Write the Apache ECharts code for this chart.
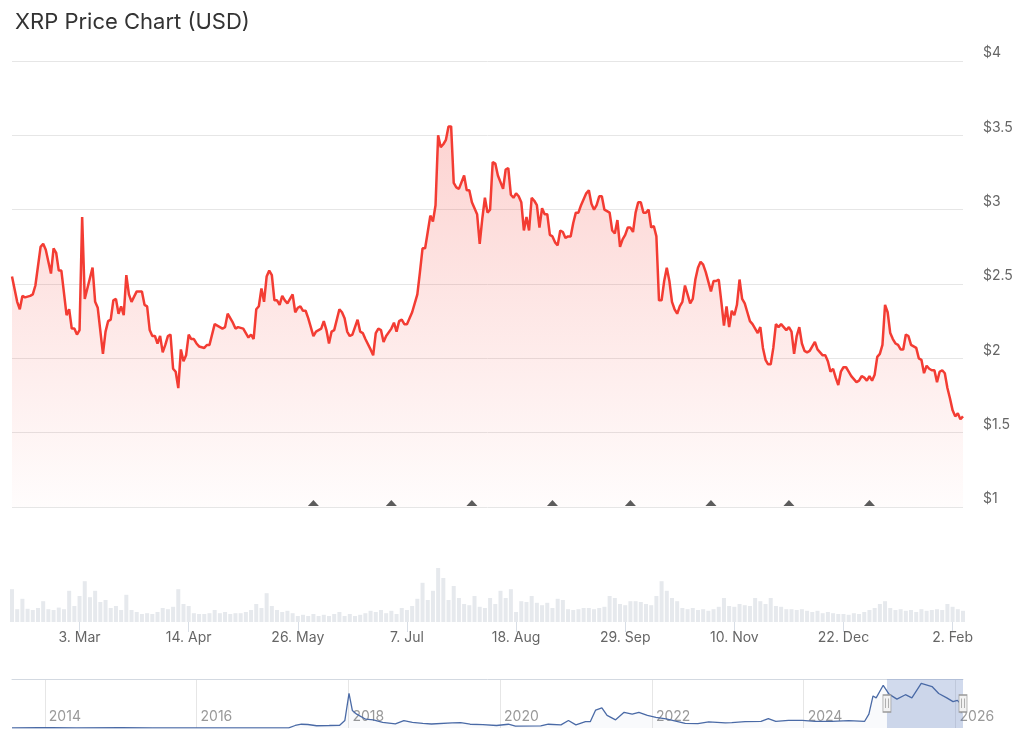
<!DOCTYPE html>
<html>
<head>
<meta charset="utf-8">
<title>XRP Price Chart (USD)</title>
<script src="https://cdn.jsdelivr.net/npm/echarts@6/dist/echarts.min.js"></script>
<style>
  html, body { margin: 0; padding: 0; background: #fff; }
  #chart { width: 1024px; height: 747px; }
</style>
</head>
<body>
<div id="chart"></div>
<script>
// first day of the daily window
const startDate = [2025, 1, 5]; // 5 Feb 2025 (month is 0-based)

// [days since start, close price in USD]
const xrpDaily = [
  [0, 2.55], [2, 2.38], [3, 2.33], [4, 2.42], [5, 2.41], [7, 2.42], [8, 2.43], [9, 2.49],
  [11, 2.75], [12, 2.77], [13, 2.73], [14, 2.65], [15, 2.57], [16, 2.74], [17, 2.71], [18, 2.59],
  [19, 2.59], [21, 2.29], [22, 2.33], [23, 2.20], [24, 2.20], [25, 2.16], [26, 2.19], [27, 2.95],
  [28, 2.40], [29, 2.47], [31, 2.61], [32, 2.38], [33, 2.34], [35, 2.03], [36, 2.18], [37, 2.25],
  [38, 2.26], [39, 2.39], [40, 2.40], [41, 2.30], [42, 2.35], [43, 2.29], [44, 2.56], [45, 2.43],
  [46, 2.38], [48, 2.45], [50, 2.45], [51, 2.36], [52, 2.35], [53, 2.19], [54, 2.15], [55, 2.15],
  [56, 2.10], [57, 2.15], [58, 2.04], [59, 2.09], [60, 2.15], [61, 2.16], [62, 1.93], [63, 1.91],
  [64, 1.80], [65, 2.06], [66, 1.98], [67, 2.02], [68, 2.16], [69, 2.13], [70, 2.13], [71, 2.10],
  [72, 2.08], [74, 2.07], [75, 2.09], [76, 2.09], [78, 2.23], [79, 2.22], [81, 2.20], [82, 2.21],
  [83, 2.30], [85, 2.24], [86, 2.20], [87, 2.21], [89, 2.20], [90, 2.17], [91, 2.14], [92, 2.16],
  [93, 2.13], [94, 2.33], [95, 2.35], [96, 2.47], [97, 2.38], [98, 2.55], [99, 2.59], [100, 2.56],
  [101, 2.39], [102, 2.39], [103, 2.36], [104, 2.42], [105, 2.39], [106, 2.37], [108, 2.43], [109, 2.31],
  [110, 2.34], [111, 2.35], [112, 2.32], [113, 2.32], [114, 2.27], [116, 2.15], [117, 2.18], [119, 2.20],
  [120, 2.25], [121, 2.19], [122, 2.10], [123, 2.18], [124, 2.19], [126, 2.33], [127, 2.31], [128, 2.27],
  [129, 2.18], [130, 2.15], [131, 2.16], [133, 2.26], [134, 2.18], [135, 2.17], [136, 2.13], [138, 2.06],
  [139, 2.02], [140, 2.17], [141, 2.20], [142, 2.19], [143, 2.11], [144, 2.15], [146, 2.20], [147, 2.24],
  [148, 2.18], [149, 2.25], [150, 2.26], [151, 2.23], [152, 2.23], [153, 2.27], [154, 2.31], [156, 2.43],
  [157, 2.58], [158, 2.74], [159, 2.74], [160, 2.85], [161, 2.96], [162, 2.92], [163, 3.03], [164, 3.50],
  [165, 3.42], [166, 3.44], [167, 3.47], [168, 3.56], [169, 3.56], [170, 3.18], [171, 3.15], [172, 3.14],
  [174, 3.23], [175, 3.13], [176, 3.13], [177, 3.05], [179, 2.97], [180, 2.77], [181, 2.94], [182, 3.08],
  [183, 2.98], [184, 3.00], [185, 3.32], [186, 3.31], [187, 3.23], [189, 3.14], [190, 3.27], [191, 3.28],
  [192, 3.10], [193, 3.08], [194, 3.11], [195, 3.09], [196, 3.05], [197, 2.86], [198, 2.95], [199, 2.86],
  [200, 3.08], [201, 3.06], [202, 3.03], [203, 2.88], [204, 3.01], [205, 2.97], [206, 2.97], [207, 2.83],
  [208, 2.82], [209, 2.78], [210, 2.76], [211, 2.86], [212, 2.85], [213, 2.81], [214, 2.82], [215, 2.82],
  [216, 2.91], [217, 2.98], [218, 2.98], [219, 3.03], [221, 3.11], [222, 3.13], [223, 3.04], [224, 3.00],
  [225, 3.03], [226, 3.09], [227, 3.09], [228, 3.00], [229, 2.99], [230, 2.98], [231, 2.86], [232, 2.84],
  [233, 2.93], [234, 2.75], [235, 2.80], [236, 2.83], [237, 2.88], [238, 2.88], [239, 2.85], [240, 2.98],
  [241, 3.05], [242, 3.05], [243, 2.98], [244, 2.98], [245, 3.00], [246, 2.88], [247, 2.89], [248, 2.82],
  [249, 2.39], [250, 2.39], [251, 2.52], [252, 2.61], [253, 2.52], [254, 2.38], [255, 2.33], [256, 2.30],
  [257, 2.35], [258, 2.38], [259, 2.49], [260, 2.43], [261, 2.37], [262, 2.40], [263, 2.53], [264, 2.61],
  [265, 2.65], [266, 2.63], [267, 2.58], [269, 2.45], [270, 2.52], [271, 2.52], [272, 2.53], [273, 2.38],
  [274, 2.22], [275, 2.35], [276, 2.21], [277, 2.32], [278, 2.29], [279, 2.36], [280, 2.53], [281, 2.40],
  [282, 2.37], [283, 2.31], [284, 2.25], [285, 2.23], [286, 2.20], [287, 2.17], [288, 2.21], [289, 2.07],
  [290, 1.99], [291, 1.96], [292, 1.96], [293, 2.07], [294, 2.23], [295, 2.21], [296, 2.23], [297, 2.21],
  [298, 2.19], [299, 2.21], [300, 2.18], [301, 2.03], [302, 2.15], [303, 2.21], [304, 2.10], [305, 2.05],
  [306, 2.04], [307, 2.05], [308, 2.08], [309, 2.11], [310, 2.06], [311, 2.04], [312, 2.02], [313, 2.02],
  [314, 1.98], [315, 1.91], [316, 1.93], [317, 1.87], [318, 1.82], [319, 1.91], [320, 1.94], [321, 1.94],
  [322, 1.91], [323, 1.88], [325, 1.84], [326, 1.85], [327, 1.88], [328, 1.87], [329, 1.85], [330, 1.88],
  [331, 1.85], [332, 1.89], [333, 2.01], [334, 2.03], [335, 2.09], [336, 2.36], [337, 2.31], [338, 2.17],
  [339, 2.13], [340, 2.10], [341, 2.09], [342, 2.06], [343, 2.06], [344, 2.16], [345, 2.15], [346, 2.09],
  [347, 2.08], [348, 2.07], [349, 2.00], [350, 1.99], [351, 1.90], [352, 1.95], [353, 1.93], [354, 1.92],
  [355, 1.92], [356, 1.84], [357, 1.91], [358, 1.92], [359, 1.90], [360, 1.80], [361, 1.73], [362, 1.65],
  [363, 1.61], [364, 1.63], [365, 1.59], [366, 1.61]
];

// traded volume (billion USD), one value every 2 days from startDate
const volumeStepDays = 2;
const volumes = [
  8.2, 3.2, 5.8, 3.3, 3.0, 3.5, 5.2, 3.2, 3.0, 3.6,
  3.2, 7.8, 4.0, 6.5, 10.2, 6.2, 7.8, 5.0, 5.5, 3.5,
  4.0, 3.0, 6.8, 3.0, 2.5, 2.0, 2.2, 2.0, 2.5, 3.5,
  3.2, 3.8, 8.2, 4.5, 4.0, 2.2, 2.0, 2.0, 2.2, 3.0,
  2.2, 2.5, 2.0, 2.2, 2.2, 2.5, 3.0, 4.5, 3.5, 7.2,
  4.0, 3.0, 2.5, 2.8, 2.2, 1.5, 1.8, 1.5, 2.0, 1.5,
  1.8, 1.5, 2.0, 2.5, 1.5, 2.0, 1.5, 1.8, 2.2, 2.8,
  2.5, 3.0, 2.2, 2.8, 2.0, 3.5, 3.0, 4.0, 5.8, 9.8,
  5.5, 7.8, 13.5, 11.0, 5.5, 9.0, 6.0, 4.5, 4.2, 6.5,
  3.8, 3.5, 6.0, 4.5, 7.8, 6.0, 8.2, 2.5, 5.2, 5.0,
  6.5, 4.8, 4.2, 4.8, 3.5, 5.8, 5.5, 3.2, 3.0, 3.2,
  3.5, 3.5, 3.2, 3.5, 3.8, 6.5, 6.0, 4.5, 4.2, 5.2,
  5.2, 5.0, 4.5, 4.2, 6.5, 10.2, 7.8, 6.0, 5.2, 3.5,
  3.2, 3.5, 3.0, 3.2, 2.8, 3.2, 3.8, 6.0, 4.0, 3.8,
  4.5, 4.2, 4.0, 6.0, 5.2, 4.5, 6.0, 4.0, 3.8, 3.2,
  3.2, 3.0, 3.2, 2.8, 2.5, 2.8, 2.2, 2.5, 2.2, 2.0,
  2.0, 1.8, 2.2, 2.0, 2.5, 3.0, 3.5, 4.5, 5.2, 3.5,
  3.0, 3.2, 2.8, 3.0, 2.5, 3.2, 2.8, 3.0, 3.2, 3.0,
  4.5, 3.8, 3.2, 2.8
];

// flag markers on the $1 line
const markerDates = ['2025-06-01', '2025-07-01', '2025-08-01', '2025-09-01',
  '2025-10-01', '2025-11-01', '2025-12-01', '2026-01-01'];

// x axis tick dates of the main chart
const xTickDates = ['2025-03-03', '2025-04-14', '2025-05-26', '2025-07-07', '2025-08-18',
  '2025-09-29', '2025-11-10', '2025-12-22', '2026-02-02'];
const monthNames = ['Jan', 'Feb', 'Mar', 'Apr', 'May', 'Jun', 'Jul', 'Aug', 'Sep', 'Oct', 'Nov', 'Dec'];

// navigator: full price history (USD)
const historyDates = [
  '2013-07-27', '2013-12-01', '2014-02-01', '2014-06-01', '2015-01-01', '2015-06-01', '2016-01-01',
  '2016-06-01', '2017-01-01', '2017-03-20', '2017-04-20', '2017-05-20', '2017-06-20', '2017-08-01',
  '2017-10-01', '2017-11-20', '2017-12-15', '2018-01-04', '2018-01-20', '2018-02-10', '2018-03-25',
  '2018-05-01', '2018-06-15', '2018-08-15', '2018-09-25', '2018-11-05', '2018-12-25', '2019-02-05',
  '2019-05-15', '2019-06-25', '2019-08-10', '2019-10-10', '2019-12-15', '2020-02-10', '2020-03-15',
  '2020-07-15', '2020-08-20', '2020-10-20', '2020-11-25', '2020-12-31', '2021-02-15', '2021-03-10',
  '2021-04-05', '2021-05-05', '2021-05-30', '2021-07-10', '2021-08-20', '2021-09-28', '2021-10-30',
  '2021-12-10', '2022-01-20', '2022-03-10', '2022-04-25', '2022-06-10', '2022-08-10', '2022-10-01',
  '2022-12-20', '2023-01-20', '2023-03-25', '2023-06-10', '2023-07-15', '2023-08-20', '2023-10-20',
  '2023-12-25', '2024-02-25', '2024-05-15', '2024-08-05', '2024-10-20', '2024-11-10', '2024-11-30',
  '2024-12-15', '2025-01-18', '2025-02-15', '2025-03-25', '2025-05-05', '2025-06-05', '2025-07-20',
  '2025-09-10', '2025-10-12', '2025-11-20', '2025-12-20', '2026-01-10', '2026-02-05'
];
const historyPrices = [
  0.01, 0.03, 0.02, 0.005, 0.02, 0.008, 0.006,
  0.006, 0.006, 0.01, 0.2, 0.3, 0.28, 0.18,
  0.2, 0.22, 0.6, 2.75, 1.4, 1.1, 0.7,
  0.65, 0.45, 0.32, 0.58, 0.45, 0.37, 0.32,
  0.4, 0.42, 0.3, 0.27, 0.2, 0.3, 0.15,
  0.17, 0.3, 0.25, 0.6, 0.25, 0.5, 0.5,
  1.43, 1.6, 1.0, 0.65, 1.25, 1.1, 1.25,
  1.0, 0.85, 0.72, 0.55, 0.37, 0.35, 0.48,
  0.4, 0.42, 0.5, 0.52, 0.75, 0.52, 0.6,
  0.6, 0.52, 0.52, 0.58, 0.52, 1.1, 2.55,
  2.4, 3.4, 2.7, 2.3, 2.65, 2.4, 3.55,
  3.3, 2.75, 2.4, 2.1, 2.2, 1.75
];
const navYears = [2014, 2016, 2018, 2020, 2022, 2024, 2026];
const navRange = ['2013-07-27', '2026-02-06'];

const font = 'Inter, "Noto Sans", sans-serif';

function ts(str) {
  const p = str.split('-').map(Number);
  return new Date(p[0], p[1] - 1, p[2]).getTime();
}
function dayTs(d) {
  return new Date(startDate[0], startDate[1], startDate[2] + d).getTime();
}

const chart = echarts.init(document.getElementById('chart'), null, { renderer: 'canvas' });

const navYearTs = navYears.map((y) => ts(y + '-01-01'));

const option = {
  animation: false,
  backgroundColor: '#ffffff',
  textStyle: { fontFamily: font },
  title: {
    text: 'XRP Price Chart (USD)',
    left: 10,
    top: 6,
    textStyle: { fontFamily: font, fontSize: 22, fontWeight: 'normal', color: '#333333' }
  },
  grid: [
    { left: 12, right: 61, top: 61, height: 446 },
    { left: 12, right: 61, top: 560, height: 62 },
    { left: 12, right: 61, top: 679, height: 49 }
  ],
  xAxis: [
    {
      type: 'value', gridIndex: 0, min: dayTs(0), max: dayTs(366), show: false
    },
    {
      type: 'value', gridIndex: 1, min: dayTs(0), max: dayTs(366),
      axisLine: { show: false },
      axisTick: {
        show: true, length: 10, customValues: xTickDates.map(ts),
        lineStyle: { color: '#d8dee6' }
      },
      splitLine: { show: false },
      axisLabel: {
        customValues: xTickDates.map(ts),
        margin: 9,
        color: '#666666',
        fontSize: 14,
        fontFamily: font,
        formatter: (v) => {
          const d = new Date(v);
          return d.getDate() + '. ' + monthNames[d.getMonth()];
        }
      }
    },
    {
      type: 'value', gridIndex: 2, min: ts(navRange[0]), max: ts(navRange[1]),
      axisLine: { show: false },
      axisTick: { show: false, customValues: navYearTs },
      splitLine: { show: true, lineStyle: { color: '#e6e6e6', width: 1 } },
      axisLabel: {
        inside: true,
        customValues: navYearTs,
        align: 'left',
        margin: 4,
        padding: [0, 0, 0, 4],
        color: '#999999',
        fontSize: 14,
        fontFamily: font,
        formatter: (v) => String(new Date(v).getFullYear())
      }
    },
    {
      // top outline of the navigator
      type: 'value', gridIndex: 2, position: 'top', min: ts(navRange[0]), max: ts(navRange[1]),
      axisLine: { show: true, lineStyle: { color: '#d3d9e1', width: 1 } },
      axisTick: { show: false },
      axisLabel: { show: false },
      splitLine: { show: false }
    }
  ],
  yAxis: [
    {
      type: 'value', gridIndex: 0, position: 'right',
      min: 1, max: 4, interval: 0.5,
      axisLine: { show: false },
      axisTick: { show: false },
      splitLine: { show: true, lineStyle: { color: '#e6e6e6', width: 1 } },
      axisLabel: {
        margin: 20,
        align: 'left',
        verticalAlign: 'bottom',
        padding: [0, 0, 1, 0],
        color: '#666666',
        fontSize: 14,
        fontFamily: font,
        formatter: (v) => '$' + v
      }
    },
    { type: 'value', gridIndex: 1, min: 0, max: 15.5, show: false },
    { type: 'value', gridIndex: 2, min: 0, max: 3.9, show: false }
  ],
  series: [
    {
      name: 'XRP',
      type: 'line',
      xAxisIndex: 0,
      yAxisIndex: 0,
      symbol: 'none',
      data: xrpDaily.map(([d, v]) => [dayTs(d), v]),
      lineStyle: { color: '#f33c33', width: 2.5 },
      itemStyle: { color: '#f33c33' },
      areaStyle: {
        origin: 'start',
        color: new echarts.graphic.LinearGradient(0, 0, 0, 1, [
          { offset: 0, color: 'rgba(243, 60, 51, 0.32)' },
          { offset: 1, color: 'rgba(243, 60, 51, 0.02)' }
        ])
      },
      z: 3
    },
    {
      name: 'flags',
      type: 'scatter',
      xAxisIndex: 0,
      yAxisIndex: 0,
      data: markerDates.map((d) => [ts(d), 1]),
      symbol: 'triangle',
      symbolSize: [11, 6],
      symbolOffset: [0, -4],
      itemStyle: { color: '#333333' },
      clip: false,
      z: 5
    },
    {
      name: 'Volume',
      type: 'bar',
      xAxisIndex: 1,
      yAxisIndex: 1,
      barWidth: 4,
      data: volumes.map((v, i) => [dayTs(i * volumeStepDays), v]),
      itemStyle: { color: '#e6e9ed' }
    },
    {
      name: 'History',
      type: 'line',
      xAxisIndex: 2,
      yAxisIndex: 2,
      symbol: 'none',
      data: historyDates.map((d, i) => [ts(d), historyPrices[i]]),
      lineStyle: { color: '#4a6aa6', width: 1.3 },
      areaStyle: { color: 'rgba(74, 106, 166, 0.05)' },
      markArea: {
        silent: true,
        itemStyle: { color: 'rgba(102, 133, 194, 0.3)' },
        data: [[{ xAxis: dayTs(0) }, { xAxis: dayTs(366) }]]
      },
      markPoint: {
        silent: true,
        symbol: 'rect',
        symbolSize: [8, 17],
        itemStyle: { color: '#f2f2f2', borderColor: '#999999', borderWidth: 1 },
        label: { show: true, formatter: '||', fontSize: 8, color: '#888888', position: 'inside' },
        data: [
          { coord: [dayTs(0), 1.95] },
          { coord: [dayTs(366), 1.95] }
        ]
      }
    }
  ]
};

chart.setOption(option);
</script>
</body>
</html>
